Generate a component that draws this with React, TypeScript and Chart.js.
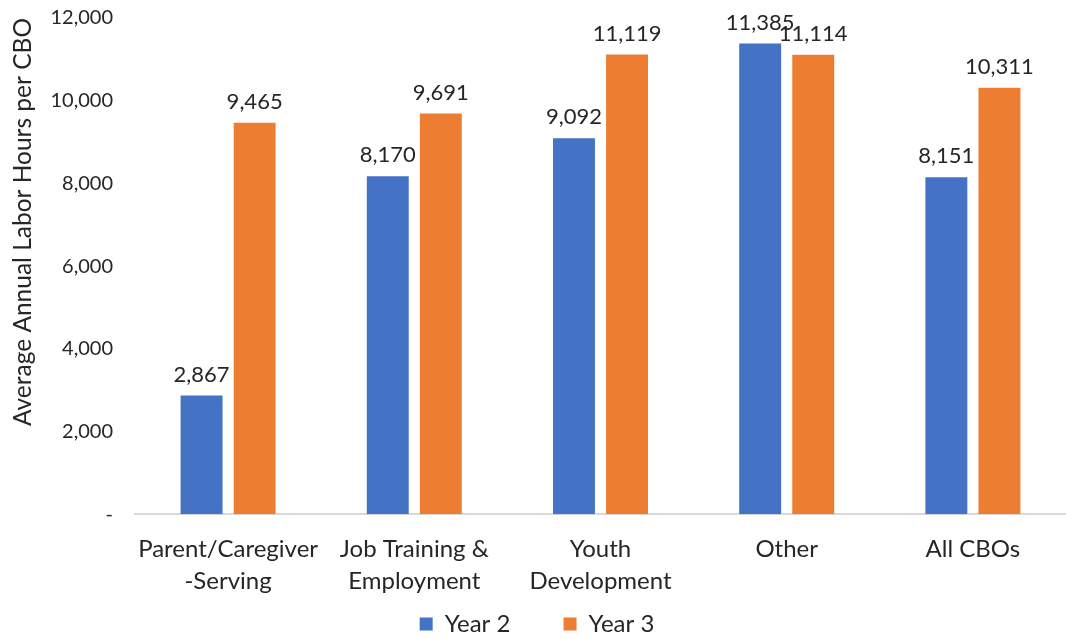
import React, { useEffect, useRef } from "react";
import { Chart, registerables } from "chart.js";

Chart.register(...registerables);

const categories: (string | string[])[] = [
  ["Parent/Caregiver", "-Serving"],
  ["Job Training &", "Employment"],
  ["Youth", "Development"],
  "Other",
  "All CBOs",
];
const year2 = [2867, 8170, 9092, 11385, 8151];
const year3 = [9465, 9691, 11119, 11114, 10311];
const seriesNames = ["Year 2", "Year 3"];
const yTicks = [0, 2000, 4000, 6000, 8000, 10000, 12000];

const FONT = "Lato, 'Open Sans', sans-serif";
const TEXT = "#262626";

const fmt = (v: number) => (v === 0 ? "-" : v.toLocaleString("en-US"));

const labelPlugin = {
  id: "barLabels",
  afterDatasetsDraw(chart: any) {
    const ctx = chart.ctx;
    ctx.save();
    ctx.font = `22px ${FONT}`;
    ctx.fillStyle = TEXT;
    ctx.textAlign = "center";
    ctx.textBaseline = "bottom";
    chart.data.datasets.forEach((ds: any, i: number) => {
      const meta = chart.getDatasetMeta(i);
      meta.data.forEach((el: any, j: number) => {
        ctx.fillText(fmt(ds.data[j]), el.x, el.y - 10);
      });
    });
    ctx.restore();
  },
};

export default function App() {
  const ref = useRef<HTMLCanvasElement>(null);
  useEffect(() => {
    document.body.style.margin = "0";
    const chart = new Chart(ref.current!, {
      type: "bar",
      data: {
        labels: categories,
        datasets: [
          { label: seriesNames[0], data: year2, backgroundColor: "#4472C4" },
          { label: seriesNames[1], data: year3, backgroundColor: "#ED7D31" },
        ],
      },
      options: {
        animation: false,
        responsive: false,
        maintainAspectRatio: false,
        layout: { padding: { top: 0, right: 0, left: 8, bottom: -8 } },
        datasets: {
          bar: { categoryPercentage: 0.57, barPercentage: 0.79 },
        },
        plugins: {
          legend: {
            position: "bottom",
            labels: {
              font: { family: FONT, size: 24 },
              color: TEXT,
              boxWidth: 13,
              boxHeight: 13,
              padding: 4,
              generateLabels: (chart: any) => {
                const items = Chart.defaults.plugins.legend.labels.generateLabels(chart);
                items.forEach((it: any, i: number) => {
                  if (i < items.length - 1) it.text = it.text + "        ";
                  it.lineWidth = 0;
                });
                return items;
              },
            },
          },
          tooltip: { enabled: false },
        },
        scales: {
          x: {
            grid: { display: false },
            border: { color: "#d9d9d9", width: 2 },
            ticks: {
              font: { family: FONT, size: 24, lineHeight: 1.33 },
              color: TEXT,
              maxRotation: 0,
              autoSkip: false,
              padding: 11,
            },
          },
          y: {
            min: 0,
            max: 12000,
            grid: { display: false },
            border: { display: false },
            afterBuildTicks: (s: any) => {
              s.ticks = yTicks.map((v) => ({ value: v }));
            },
            afterFit: (s: any) => {
              s.width = 127;
              s.paddingTop = 18;
              s.paddingBottom = 0;
            },
            ticks: {
              font: { family: FONT, size: 20 },
              color: TEXT,
              padding: 14,
              callback: (v: any) => fmt(Number(v)),
            },
            title: {
              display: true,
              text: "Average Annual Labor Hours per CBO",
              font: { family: FONT, size: 24.5 },
              color: TEXT,
              align: "end",
              padding: 0,
            },
          },
        },
      },
      plugins: [labelPlugin],
    });
    return () => chart.destroy();
  }, []);
  return <canvas ref={ref} width={1066} height={638} style={{ display: "block" }} />;
}
